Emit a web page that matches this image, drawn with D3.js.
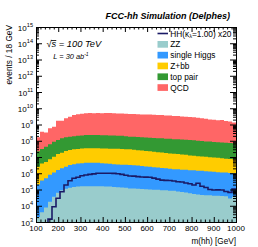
<!DOCTYPE html>
<html>
<head>
<meta charset="utf-8">
<script src="https://cdn.jsdelivr.net/npm/d3@7"></script>
<style>
  body { margin: 0; background: #fff; }
  svg { display: block; font-family: 'Liberation Sans', Arial, sans-serif; }
</style>
</head>
<body>
<svg id="chart" width="258" height="247"></svg>
<script>
/* global d3 */

// m(hh) histogram, 50 bins of 18 GeV from 100 to 1000 GeV
let binEdges = d3.range(100, 1001, 18)

let zz = [2000, 4000, 7900, 17800, 35500, 63100, 89100, 112000, 126000, 141000,
  151000, 158000, 158000, 158000, 158000, 158000, 158000, 155000, 151000, 145000,
  138000, 132000, 126000, 117000, 115000, 112000, 107000, 105000, 100000, 97700,
  95500, 91200, 89100, 85100, 83200, 75900, 70800, 64600, 58900, 53700,
  50100, 45700, 44700, 43700, 41700, 40700, 39800, 38000, 28200, 35500]

let singleHiggs = [1.98e5, 3.5e5, 4.9e5, 7.8e5, 1.09e6, 1.52e6, 1.91e6, 2.4e6, 3.04e6, 3.49e6,
  3.83e6, 4.01e6, 4.31e6, 4.31e6, 4.31e6, 4.21e6, 4.01e6, 3.83e6, 3.65e6, 3.49e6,
  3.33e6, 3.26e6, 3.19e6, 3.12e6, 2.98e6, 2.84e6, 2.71e6, 2.53e6, 2.41e6, 2.25e6,
  2.14e6, 2.0e6, 1.91e6, 1.78e6, 1.7e6, 1.66e6, 1.59e6, 1.56e6, 1.49e6, 1.46e6,
  1.4e6, 1.37e6, 1.3e6, 1.24e6, 1.19e6, 1.13e6, 1.08e6, 1.06e6, 1.02e6, 9.6e5]

let zbb = [2.31e6, 3.63e6, 4.51e6, 6.45e6, 9.35e6, 1.36e7, 1.62e7, 2.09e7, 2.38e7, 2.59e7,
  2.76e7, 2.89e7, 3.02e7, 3.02e7, 3.02e7, 3.03e7, 2.97e7, 2.91e7, 2.86e7, 2.8e7,
  2.82e7, 2.75e7, 2.69e7, 2.63e7, 2.51e7, 2.34e7, 2.23e7, 2.08e7, 1.99e7, 1.86e7,
  1.77e7, 1.65e7, 1.58e7, 1.47e7, 1.41e7, 1.34e7, 1.25e7, 1.19e7, 1.1e7, 1.05e7,
  9.8e6, 9.3e6, 8.9e6, 8.5e6, 8.1e6, 7.7e6, 7.4e6, 6.8e6, 6.5e6, 6.2e6]

let topPair = [1.99e7, 2.76e7, 3.77e7, 5.3e7, 7.66e7, 9.71e7, 1.23e8, 1.39e8, 1.51e8, 1.61e8,
  1.73e8, 1.81e8, 1.89e8, 1.89e8, 1.89e8, 1.89e8, 1.85e8, 1.86e8, 1.81e8, 1.77e8,
  1.73e8, 1.69e8, 1.6e8, 1.48e8, 1.46e8, 1.44e8, 1.41e8, 1.35e8, 1.33e8, 1.27e8,
  1.25e8, 1.23e8, 1.17e8, 1.15e8, 1.1e8, 1.08e8, 1.06e8, 1.01e8, 9.96e7, 9.52e7,
  8.88e7, 8.48e7, 8.1e7, 7.94e7, 7.58e7, 7.24e7, 7.09e7, 6.79e7, 6.49e7, 6.19e7]

let qcd = [1.4e8, 3.32e8, 2.74e8, 5.29e8, 6.37e8, 1.59e9, 1.56e9, 2.24e9, 2.84e9, 3.61e9,
  4.06e9, 4.36e9, 4.67e9, 4.79e9, 4.67e9, 4.91e9, 4.79e9, 4.91e9, 4.8e9, 4.69e9,
  4.58e9, 4.48e9, 4.38e9, 4.29e9, 4.19e9, 4.1e9, 4.0e9, 4.01e9, 3.92e9, 3.83e9,
  3.66e9, 3.66e9, 3.5e9, 3.42e9, 3.26e9, 3.19e9, 3.04e9, 2.91e9, 2.77e9, 2.65e9,
  2.53e9, 2.3e9, 2.2e9, 1.91e9, 1.91e9, 1.74e9, 1.83e9, 1.58e9, 1.44e9, 1.25e9]

// signal, scaled x20, drawn as a line on top of the stack
let hhX20 = [0, 0, 0, 1500, 8710, 28800, 72400, 190500, 346700, 489800,
  562300, 707900, 776200, 851100, 912000, 1.0e6, 1.0e6, 1.0e6, 1.0e6, 977000,
  933000, 851000, 759000, 676000, 661000, 617000, 589000, 575000, 562000, 501000,
  437000, 380000, 363000, 355000, 331000, 302000, 288000, 251000, 224000, 191000,
  240000, 158000, 132000, 100000, 93300, 95500, 93300, 75900, 66100, 105000]

let stackKeys = ['zz', 'singleHiggs', 'zbb', 'topPair', 'qcd']
let stackLabels = ['ZZ', 'single Higgs', 'Z+bb', 'top pair', 'QCD']
let stackColors = ['#99cccc', '#3399ff', '#ffcc00', '#339933', '#ff6666']
let hhColor = '#1a1a66'

let xMajor = [100, 200, 300, 400, 500, 600, 700, 800, 900, 1000]
let yDecades = [3, 4, 5, 6, 7, 8, 9, 10, 11, 12, 13, 14, 15]

let frame = {l: 36, r: 236, t: 27, b: 222}

let svg = d3.select('#chart')

let x = d3.scaleLinear().domain([100, 1000]).range([frame.l, frame.r])
let y = d3.scaleLog().domain([1e3, 1e15]).range([frame.b, frame.t]).clamp(true)

let table = zz.map(function (v, i) {
  return {zz: v, singleHiggs: singleHiggs[i], zbb: zbb[i], topPair: topPair[i], qcd: qcd[i]}
})
let layers = d3.stack().keys(stackKeys)(table)

// each layer filled from the floor up to its cumulative top, drawn top layer first
let area = d3.area()
  .x(function (d) { return x(d[0]) })
  .y0(frame.b)
  .y1(function (d) { return y(d[1]) })
  .curve(d3.curveStepAfter)

let fills = svg.append('g')
layers.slice().reverse().forEach(function (layer) {
  let pts = layer.map(function (d, i) { return [binEdges[i], d[1]] })
  pts.push([binEdges[binEdges.length - 1], layer[layer.length - 1][1]])
  fills.append('path')
    .attr('d', area(pts))
    .attr('fill', stackColors[layer.index])
    .attr('stroke', 'none')
})

// HH outline, starting where the first filled bin begins
let first = hhX20.findIndex(function (v) { return v > 0 })
let hhPts = [[binEdges[first], 1e3]]
for (let i = first; i < hhX20.length; i++) hhPts.push([binEdges[i], hhX20[i]])
hhPts.push([binEdges[binEdges.length - 1], hhX20[hhX20.length - 1]])
svg.append('path')
  .attr('d', d3.line()
    .x(function (d) { return x(d[0]) })
    .y(function (d) { return y(d[1]) })
    .curve(d3.curveStepAfter)(hhPts))
  .attr('fill', 'none')
  .attr('stroke', hhColor)
  .attr('stroke-width', 1.6)

// ticks on all four sides, pointing into the frame
let yMinor = []
yDecades.slice(0, -1).forEach(function (d) {
  for (let k = 2; k <= 9; k++) yMinor.push(k * Math.pow(10, d))
})
let yMajorVals = yDecades.map(function (d) { return Math.pow(10, d) })
let xMinor = d3.range(100, 1001, 20).filter(function (v) { return v % 100 !== 0 })

function tickSet (axis, scale, vals, size, transform) {
  svg.append('g')
    .attr('transform', transform)
    .attr('color', '#000')
    .call(axis(scale).tickValues(vals).tickSize(size).tickFormat(''))
    .call(function (g) { g.select('.domain').remove() })
}
tickSet(d3.axisRight, y, yMajorVals, 6, 'translate(' + frame.l + ',0)')
tickSet(d3.axisRight, y, yMinor, 3, 'translate(' + frame.l + ',0)')
tickSet(d3.axisLeft, y, yMajorVals, 6, 'translate(' + frame.r + ',0)')
tickSet(d3.axisLeft, y, yMinor, 3, 'translate(' + frame.r + ',0)')
tickSet(d3.axisTop, x, xMajor, 5, 'translate(0,' + frame.b + ')')
tickSet(d3.axisTop, x, xMinor, 2.5, 'translate(0,' + frame.b + ')')
tickSet(d3.axisBottom, x, xMajor, 5, 'translate(0,' + frame.t + ')')
tickSet(d3.axisBottom, x, xMinor, 2.5, 'translate(0,' + frame.t + ')')

svg.append('rect')
  .attr('x', frame.l + 0.5)
  .attr('y', frame.t + 0.5)
  .attr('width', frame.r - frame.l)
  .attr('height', frame.b - frame.t)
  .attr('fill', 'none')
  .attr('stroke', '#000')
  .attr('stroke-width', 1)

// tick labels
svg.append('g').selectAll('text')
  .data(yDecades)
  .join('text')
  .attr('x', frame.l - 3)
  .attr('y', function (d) { return y(Math.pow(10, d)) + 3.5 })
  .attr('text-anchor', 'end')
  .style('font-size', '8px')
  .each(function (d) {
    let t = d3.select(this)
    t.append('tspan').text('10')
    t.append('tspan').attr('dy', -4).style('font-size', '5.6px').text(d)
  })

svg.append('g').selectAll('text')
  .data(xMajor)
  .join('text')
  .attr('x', function (d) { return x(d) })
  .attr('y', 230.5)
  .attr('text-anchor', 'middle')
  .style('font-size', '8px')
  .text(function (d) { return d })

// axis titles
svg.append('text')
  .attr('x', frame.r)
  .attr('y', 243.5)
  .attr('text-anchor', 'end')
  .style('font-size', '8.2px')
  .text('m(hh) [GeV]')

svg.append('text')
  .attr('transform', 'translate(12,25) rotate(-90)')
  .attr('text-anchor', 'end')
  .style('font-size', '8.3px')
  .text('events / 18 GeV')

svg.append('text')
  .attr('x', 230)
  .attr('y', 18.5)
  .attr('text-anchor', 'end')
  .style('font-size', '9px')
  .style('font-weight', 'bold')
  .style('font-style', 'italic')
  .text('FCC-hh Simulation (Delphes)')

// sqrt(s) and luminosity
let sq = svg.append('text')
  .attr('x', 46.5)
  .attr('y', 47)
  .style('font-size', '9.3px')
  .style('font-style', 'italic')
  .text('\u221As = 100 TeV')
let sBox = sq.node().getExtentOfChar(1)
let rootBox = sq.node().getExtentOfChar(0)
svg.append('line')
  .attr('x1', rootBox.x + rootBox.width - 0.5)
  .attr('x2', sBox.x + sBox.width)
  .attr('y1', rootBox.y + 1.5)
  .attr('y2', rootBox.y + 1.5)
  .attr('stroke', '#000')
  .attr('stroke-width', 0.8)

let lumi = svg.append('text')
  .attr('x', 53.3)
  .attr('y', 59)
  .style('font-size', '7.4px')
  .style('font-style', 'italic')
lumi.append('tspan').text('L = 30 ab')
lumi.append('tspan').attr('dy', -3).style('font-size', '5px').text('-1')

// legend
let legX = 157.5
let legY = 33.5
let legStep = 10.8
let leg = svg.append('g')
leg.append('line')
  .attr('x1', legX)
  .attr('x2', legX + 10.5)
  .attr('y1', legY)
  .attr('y2', legY)
  .attr('stroke', hhColor)
  .attr('stroke-width', 1.6)
let hhText = leg.append('text')
  .attr('x', legX + 12.8)
  .attr('y', legY + 3)
  .style('font-size', '8.3px')
hhText.append('tspan').text('HH(\u03BA')
hhText.append('tspan').attr('dy', 1.8).style('font-size', '5.5px').text('\u03BB')
hhText.append('tspan').attr('dy', -1.8).text('=1.00) x20')

stackLabels.forEach(function (name, i) {
  let cy = legY + legStep * (i + 1)
  leg.append('rect')
    .attr('x', legX)
    .attr('y', cy - 3.3)
    .attr('width', 10.5)
    .attr('height', 6.7)
    .attr('fill', stackColors[i])
  leg.append('text')
    .attr('x', legX + 12.8)
    .attr('y', cy + 3)
    .style('font-size', '8.3px')
    .text(name)
})
</script>
</body>
</html>
